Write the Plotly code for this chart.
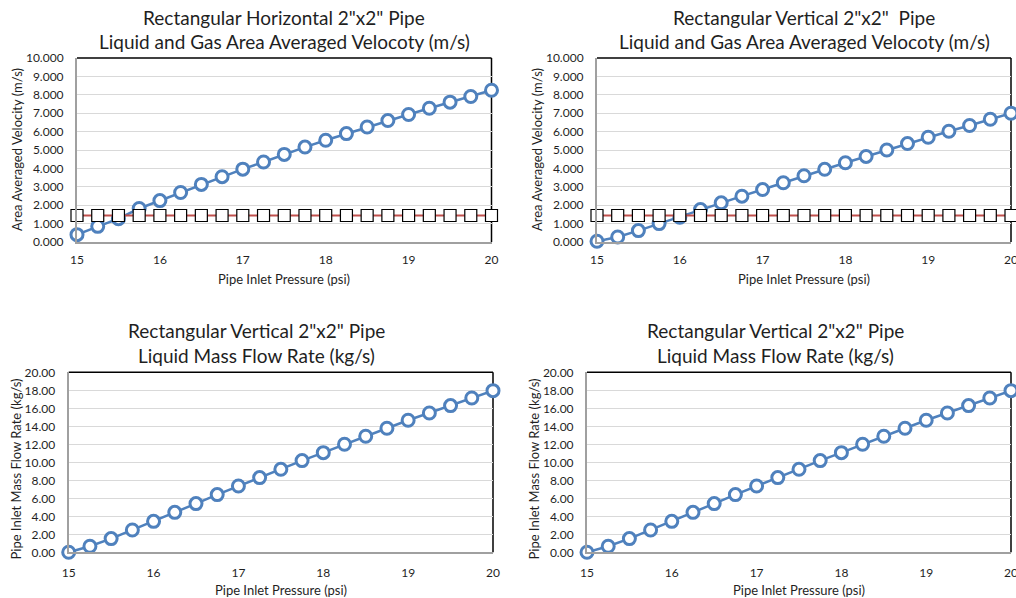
import plotly.graph_objects as go

pressure = [15.0, 15.25, 15.5, 15.75, 16.0, 16.25, 16.5, 16.75, 17.0, 17.25, 17.5,
            17.75, 18.0, 18.25, 18.5, 18.75, 19.0, 19.25, 19.5, 19.75, 20.0]

horiz_velocity = [0.40, 0.85, 1.27, 1.82, 2.25, 2.69, 3.13, 3.55, 3.96, 4.35, 4.76,
                  5.16, 5.53, 5.89, 6.25, 6.60, 6.93, 7.27, 7.60, 7.91, 8.25]
horiz_gas = [1.44] * 21

vert_velocity = [0.04, 0.27, 0.62, 1.00, 1.35, 1.76, 2.13, 2.49, 2.85, 3.22, 3.60,
                 3.95, 4.31, 4.65, 5.00, 5.35, 5.69, 6.02, 6.33, 6.67, 7.00]
vert_gas = [1.44] * 21

mass_flow_left = [0.00, 0.67, 1.52, 2.48, 3.44, 4.44, 5.41, 6.41, 7.37, 8.30, 9.22,
                  10.19, 11.07, 12.00, 12.89, 13.78, 14.67, 15.48, 16.30, 17.15, 17.96]
mass_flow_right = [0.00, 0.67, 1.52, 2.48, 3.44, 4.44, 5.41, 6.41, 7.37, 8.30, 9.22,
                   10.19, 11.07, 12.00, 12.89, 13.78, 14.67, 15.48, 16.30, 17.15, 17.96]

titles = [
    'Rectangular Horizontal 2"x2" Pipe<br>Liquid and Gas Area Averaged Velocoty (m/s)',
    'Rectangular Vertical 2"x2"  Pipe<br>Liquid and Gas Area Averaged Velocoty (m/s)',
    'Rectangular Vertical 2"x2" Pipe<br>Liquid Mass Flow Rate (kg/s)',
    'Rectangular Vertical 2"x2" Pipe<br>Liquid Mass Flow Rate (kg/s)',
]
x_title = "Pipe Inlet Pressure (psi)"
y_titles = ["Area Averaged Velocity (m/s)", "Area Averaged Velocity (m/s)",
            "Pipe Inlet Mass Flow Rate (kg/s)", "Pipe Inlet Mass Flow Rate (kg/s)"]

W, H = 1016, 598
FONT = "Lato"
TXT = "#1F1F1F"
BLUE = "#4F81BD"
RED = "#C0504D"
AXIS_GRAY = "#A0A0A0"

# plot areas in pixels (left, right, top, bottom)
areas = [(77, 491.5, 58, 242), (597, 1011, 58, 242),
         (68.7, 493, 372.3, 552.3), (587, 1011, 372.3, 552.3)]

def px(x):
    return x / W

def py(y):
    return 1 - y / H

blue_series = [horiz_velocity, vert_velocity, mass_flow_left, mass_flow_right]
gas_series = [horiz_gas, vert_gas, None, None]

fig = go.Figure()

for i in range(4):
    sfx = "" if i == 0 else str(i + 1)
    xa, ya = "x" + sfx, "y" + sfx
    fig.add_trace(go.Scatter(
        x=pressure, y=blue_series[i], xaxis=xa, yaxis=ya, mode="lines+markers",
        line=dict(color=BLUE, width=2.5),
        marker=dict(symbol="circle", size=12, color="white",
                    line=dict(color=BLUE, width=3)),
        cliponaxis=False, showlegend=False))
for i in range(4):
    sfx = "" if i == 0 else str(i + 1)
    xa, ya = "x" + sfx, "y" + sfx
    if gas_series[i] is not None:
        fig.add_trace(go.Scatter(
            x=pressure, y=gas_series[i], xaxis=xa, yaxis=ya, mode="lines+markers",
            line=dict(color=RED, width=2),
            marker=dict(symbol="square", size=12, color="white",
                        line=dict(color="black", width=1.2)),
            cliponaxis=False, showlegend=False))

layout = dict(width=W, height=H, margin=dict(l=0, r=0, t=0, b=0, autoexpand=False),
              paper_bgcolor="white", plot_bgcolor="white",
              font=dict(family=FONT, color=TXT))

annotations = []
shapes = []
title_centers = [(284, 18, 42), (804, 18, 42), (256, 330, 355), (775, 330, 355)]
ytitle_pos = [(17, 150), (537, 150), (15, 469.5), (533, 469.5)]
xtitle_pos = [(284, 279), (804, 279), (281, 590), (799, 590)]

for i, (l, r, t, b) in enumerate(areas):
    sfx = "" if i == 0 else str(i + 1)
    top = i < 2
    layout["xaxis" + sfx] = dict(
        domain=[px(l), px(r)], anchor="y" + sfx, range=[15, 20], dtick=1, tick0=15,
        showgrid=False, zeroline=False, showline=True, mirror=False, automargin=False,
        linecolor=AXIS_GRAY, linewidth=2, ticks="",
        ticklabelstandoff=6 if top else 8, ticklabeloverflow="allow",
        tickfont=dict(family=FONT, size=12, color=TXT))
    layout["yaxis" + sfx] = dict(
        domain=[py(b), py(t)], anchor="x" + sfx, automargin=False,
        range=[0, 10] if top else [0, 20], dtick=1 if top else 2,
        tickformat=".3f" if top else ".2f",
        showgrid=True, gridcolor="#D9D9D9", gridwidth=1.3, zeroline=False,
        showline=True, mirror=False, linecolor=AXIS_GRAY, linewidth=2,
        ticks="", ticklabelstandoff=9, ticklabeloverflow="allow",
        tickfont=dict(family=FONT, size=12, color=TXT))
    # black top and right border of plot area
    xd, yd = "x" + sfx + " domain", "y" + sfx + " domain"
    shapes.append(dict(type="line", xref=xd, yref=yd, x0=0, x1=1, y0=1, y1=1,
                       line=dict(color="black", width=1.5), layer="below"))
    shapes.append(dict(type="line", xref=xd, yref=yd, x0=1, x1=1, y0=0, y1=1,
                       line=dict(color="black", width=1.5), layer="below"))
    cx, y1, y2 = title_centers[i]
    lines = titles[i].split("<br>")
    for line, yy in zip(lines, (y1, y2)):
        annotations.append(dict(text=line, x=px(cx), y=py(yy), xref="paper", yref="paper",
                                xanchor="center", yanchor="middle", showarrow=False,
                                font=dict(family=FONT, size=19, color=TXT)))
    yx, yy = ytitle_pos[i]
    annotations.append(dict(text=y_titles[i], x=px(yx), y=py(yy), xref="paper", yref="paper",
                            xanchor="center", yanchor="middle", textangle=-90, showarrow=False,
                            font=dict(family=FONT, size=13, color=TXT)))
    xx, xy = xtitle_pos[i]
    annotations.append(dict(text=x_title, x=px(xx), y=py(xy), xref="paper", yref="paper",
                            xanchor="center", yanchor="middle", showarrow=False,
                            font=dict(family=FONT, size=13, color=TXT)))

layout["annotations"] = annotations
layout["shapes"] = shapes
fig.update_layout(**layout)
fig.write_html("out.html", config={"displayModeBar": False},
               post_script="document.body.style.margin='0';document.body.style.overflow='hidden';")
